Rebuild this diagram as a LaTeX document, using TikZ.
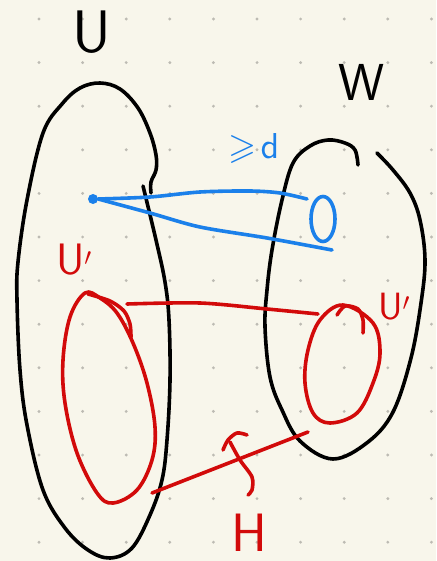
\documentclass[tikz,border=0pt]{standalone}
\usepackage{amssymb}
\usepackage{tikz}
\usetikzlibrary{positioning, shapes.geometric}
\definecolor{paper}{HTML}{F8F6EB}
\definecolor{penblue}{HTML}{1B80EA}
\definecolor{penred}{HTML}{D20A0A}
\definecolor{dotgray}{HTML}{BDBBB3}
\tikzset{
	pen/.style={
			line width=3.6pt,
			line cap=round,
			line join=round
		},
	blackpen/.style={pen, draw=black},
	bluepen/.style={pen, draw=penblue},
	redpen/.style={pen, draw=penred},
	bluedot/.style={
			circle,
			fill=penblue,
			inner sep=0pt,
			minimum size=10pt
		},
	ringnode/.style={
			ellipse,
			bluepen,
			inner sep=0pt,
			minimum width=24pt,
			minimum height=45pt
		}
}
\tikzset{
	bigtext/.style={font=\sffamily\fontsize{60}{60}\selectfont, inner sep=0pt}
}
\tikzset{
	labeltext/.style={font=\sffamily\fontsize{44}{44}\selectfont, inner sep=0pt}
}

\begin{document}
\begin{tikzpicture}[x=1pt, y=-1pt]

              \fill[paper] (0,0) rectangle (436,561);
              \useasboundingbox (0,0) rectangle (436,561);

              % dotted paper
              \foreach \i in {0,...,9}
                \foreach \j in {0,...,12}
                  \fill[dotgray] ({39+43.6*\i},{19+43.6*\j}) circle (1.6pt);

              % the two sets
              \draw[blackpen] plot[smooth, tension=0.6] coordinates {
                (151,193) (151,182) (156,170) (156,155) (150,133) (138,108)
                (120,89) (100,83) (80,88) (62,104) (43,133) (27,200) (18,262)
                (17,300) (20,370) (27,425) (43,490) (65,528) (88,550) (110,558)
                (132,548) (150,515) (162,480) (167,440) (170,380) (169,320)
                (165,282) (156,240) (143,186)};
              \draw[blackpen] plot[smooth, tension=0.6] coordinates {
                (377,153) (393,170) (410,193) (420,220) (425,260) (421,303)
                (411,358) (393,412) (368,442) (333,459) (300,441) (282,410)
                (270,377) (265,327) (267,290) (272,250) (282,200) (293,163)
                (310,146) (328,140) (345,143) (355,150) (358,165)};

              \node[bigtext] (setU) at (92,32) {U};
              \node[bigtext, font=\sffamily\fontsize{52}{52}\selectfont] (setW) at (362,82) {W};

              % blue: one vertex, many neighbours
              \node[bluedot] (v) at (93,199) {};
              \node[ringnode] (ring) at (323,219) {};
              \coordinate (tipA) at (307,199);
              \coordinate (tipB) at (332,250);
              \draw[bluepen] plot[smooth] coordinates {
                (v.east) (150,197) (200,192) (250,191) (280,193) (tipA)};
              \draw[bluepen] plot[smooth] coordinates {
                (v.east) (150,213) (200,227) (267,238) (tipB)};
              \node[text=penblue, inner sep=0pt]
                (deg) at (254,148) {\scalebox{3.6}{$\geqslant\! \mathsf{d}$}};

              % red: the subsets
              \draw[redpen] plot[smooth cycle, tension=0.6] coordinates {
                (85,293) (70,317) (63,360) (65,403) (77,453) (97,493) (113,503)
                (137,490) (152,460) (155,427) (147,383) (133,343) (117,313)
                (100,298)};
              \draw[redpen] plot[smooth] coordinates {
                (88,294) (110,301) (124,311) (130,324) (131,337)};
              \draw[redpen] plot[smooth cycle, tension=0.6] coordinates {
                (343,305) (373,323) (380,353) (373,383) (357,413) (330,423)
                (313,413) (305,383) (308,350) (320,320)};
              \draw[redpen] plot[smooth] coordinates {
                (337,315) (345,306) (358,309) (363,320) (363,333)};

              \coordinate (topL) at (127,304);
              \coordinate (topR) at (318,314);
              \coordinate (botL) at (152,493);
              \coordinate (botR) at (308,432);
              \draw[redpen] plot[smooth] coordinates {
                (topL) (200,303) (267,309) (topR)};
              \draw[redpen] (botL) -- (botR);

              % brace pointing at H
              \draw[redpen] plot[smooth] coordinates {
                (247,435) (237,433) (228,440) (223,450)};
              \draw[redpen] plot[smooth] coordinates {
                (230,442) (240,460) (252,477) (252,490) (248,495)};

              \node[labeltext, text=penred] (subU) at (74,260) {U$'$};
              \node[labeltext, text=penred, font=\sffamily\fontsize{38}{38}\selectfont]
                (subW) at (394,307) {U$'$};
              \node[bigtext, text=penred, font=\sffamily\fontsize{54}{54}\selectfont]
                (edgesH) at (249,533) {H};

            \end{tikzpicture}
\end{document}
